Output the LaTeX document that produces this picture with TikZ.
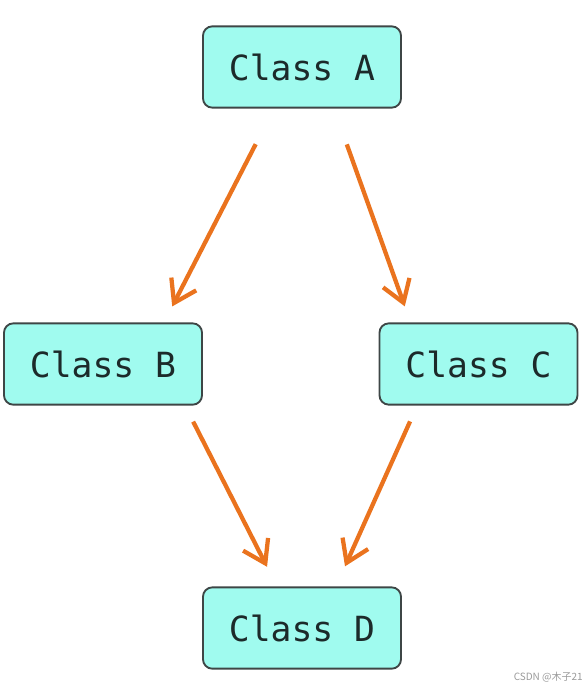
\documentclass[tikz,border=0pt]{standalone}
\usepackage{fontspec}
\usepackage{tikz}
\usetikzlibrary{arrows.meta}
\newfontfamily\monofont{DejaVu Sans Mono}
\newfontfamily\cjkfont{Noto Sans CJK SC}
\definecolor{cfill}{HTML}{A0FBEF}
\definecolor{cline}{HTML}{3E4646}
\definecolor{ctext}{HTML}{1C2A2A}
\definecolor{corange}{HTML}{EA731E}
\definecolor{cmark}{HTML}{9A9A9A}
\begin{document}
\begin{tikzpicture}[x=0.75pt,y=-0.75pt,
  cls/.style={draw=cline,line width=1.4pt,rounded corners=7pt,fill=cfill,
    minimum width=148.5pt,minimum height=61pt,inner sep=0pt,text=ctext,
    font=\monofont\fontsize{26}{30}\selectfont},
  inherit/.style={-{Straight Barb[length=16pt,width=21pt,line width=3.2pt]},
    line width=3.2pt,corange}]
\useasboundingbox (0,0) rectangle (586,688);
\node[cls] (clsa) at (302,67) {Class A};
\node[cls] (clsb) at (103,364) {Class B};
\node[cls] (clsc) at (478.5,364) {Class C};
\node[cls] (clsd) at (302,628) {Class D};
\draw[inherit,shorten <=30pt,shorten >=13.5pt] ([xshift=-21pt]clsa.south) -- ([xshift=45.75pt]clsb.north);
\draw[inherit,shorten <=28.5pt,shorten >=12.75pt] ([xshift=24pt]clsa.south) -- ([xshift=-51pt]clsc.north);
\draw[inherit,shorten <=13.5pt,shorten >=16.5pt] ([xshift=61.5pt]clsb.south) -- ([xshift=-18.75pt]clsd.north);
\draw[inherit,shorten <=13pt,shorten >=16.5pt] ([xshift=-46pt]clsc.south) -- ([xshift=25.5pt]clsd.north);
\node[anchor=east,inner sep=0pt,text=cmark,font=\cjkfont\fontsize{7.5}{9}\selectfont] (mark) at (583,677) {CSDN @木子21};
\end{tikzpicture}
\end{document}
